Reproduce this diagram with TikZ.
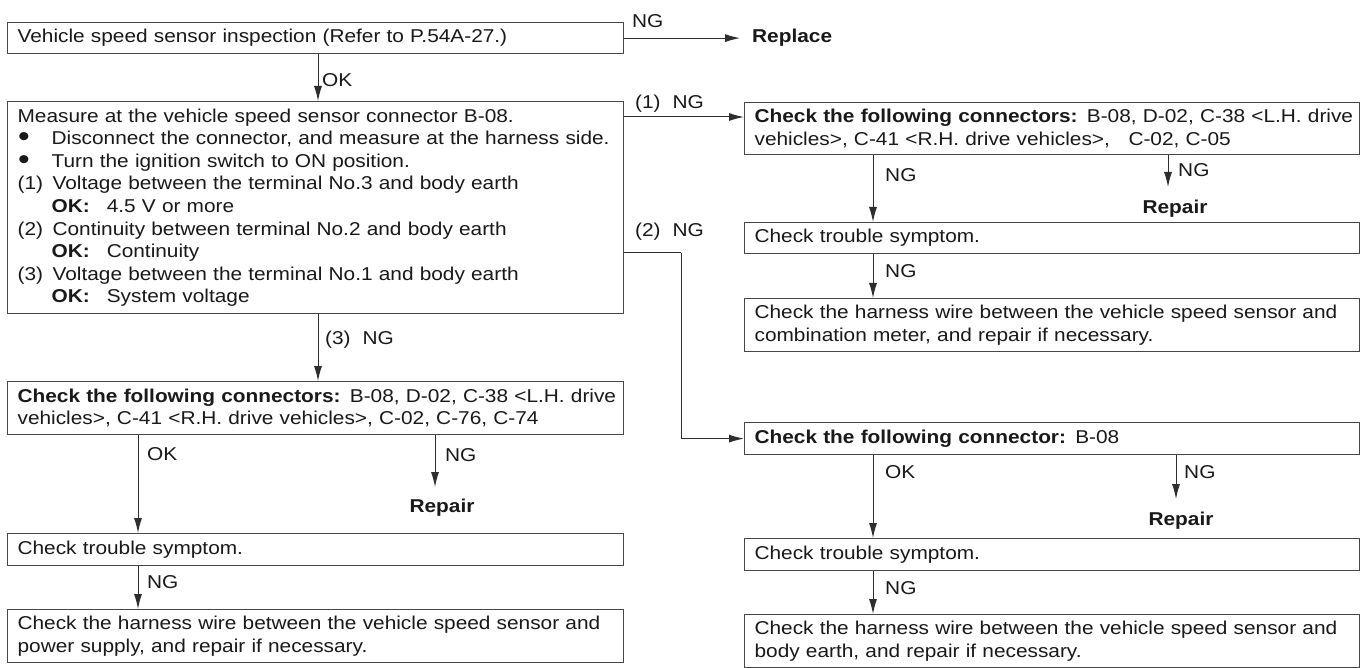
\documentclass[tikz,border=0pt]{standalone}
\usepackage{fontspec}
\setmainfont[FakeStretch=1.12]{Liberation Sans}
\usetikzlibrary{arrows.meta}
\newcommand\JL[1]{\makebox[596pt][s]{#1}}
\newcommand\JR[1]{\makebox[595pt][s]{#1}}
\newcommand\bul{\makebox[34pt][l]{\hspace{0.5pt}\raisebox{-2.2pt}[0pt][0pt]{\scalebox{1.6}{\textbullet}}}}
\newcommand\num[1]{\makebox[35pt][l]{#1}}
\newcommand\okl[1]{\hspace{34pt}\textbf{OK:}\hspace{17pt}#1}
\begin{document}
\begin{tikzpicture}[x=1pt,y=-1pt,
  every node/.style={text=black!90, font=\fontsize{18.6}{22.6}\selectfont},
  box/.style={draw=black!72, line width=1.2pt, rectangle, anchor=north west,
    inner xsep=10pt, inner ysep=0pt, text width=#1, align=left},
  lab/.style={anchor=base west, inner sep=0pt},
  rep/.style={anchor=base, inner sep=0pt, font=\fontsize{18.6}{22.6}\selectfont\bfseries},
  arr/.style={draw=black!82, line width=1pt, -{Latex[length=15pt,width=8pt]}},
  ln/.style={draw=black!82, line width=1pt}]
\useasboundingbox (0,0) rectangle (1368,668);
\fill[white] (0,0) rectangle (1368,668);

% column coordinates
\coordinate (cA) at (318,0);
\coordinate (cL) at (138,0);
\coordinate (cR) at (873,0);
\coordinate (k1) at (0,117);
\coordinate (k2) at (681,253);
\coordinate (t1) at (435,487);
\coordinate (t2) at (1168,187);
\coordinate (t3) at (1176,499);

% left column boxes
\node[box=596pt, minimum height=31pt] (b1) at (7,22)
  {Vehicle speed sensor inspection (Refer to P.54A-27.)};
\node[box=596pt, minimum height=212pt] (b2) at (7,101)
  {Measure at the vehicle speed sensor connector B-08.\\
   \bul Disconnect the connector, and measure at the harness side.\\
   \bul Turn the ignition switch to ON position.\\
   \num{(1)}Voltage between the terminal No.3 and body earth\\
   \okl{4.5 V or more}\\
   \num{(2)}Continuity between terminal No.2 and body earth\\
   \okl{Continuity}\\
   \num{(3)}Voltage between the terminal No.1 and body earth\\
   \okl{System voltage}};
\node[box=596pt, minimum height=53pt] (b3) at (7,381)
  {\JL{\textbf{Check the following connectors:} B-08, D-02, C-38 <L.H. drive}\\
   vehicles>, C-41 <R.H. drive vehicles>, C-02, C-76, C-74};
\node[box=596pt, minimum height=32pt] (b4) at (7,533) {Check trouble symptom.};
\node[box=596pt, minimum height=53pt] (b5) at (7,609)
  {\JL{Check the harness wire between the vehicle speed sensor and}\\
   power supply, and repair if necessary.};

% right column boxes
\node[box=595pt, minimum height=52pt] (bA) at (744,102)
  {\JR{\textbf{Check the following connectors:} B-08, D-02, C-38 <L.H. drive}\\
   vehicles>, C-41 <R.H. drive vehicles>,\ \ \ C-02, C-05};
\node[box=595pt, minimum height=31pt] (bB) at (744,222) {Check trouble symptom.};
\node[box=595pt, minimum height=53pt] (bC) at (744,298)
  {\JR{Check the harness wire between the vehicle speed sensor and}\\
   combination meter, and repair if necessary.};
\node[box=595pt, minimum height=32pt] (bD) at (744,422)
  {\textbf{Check the following connector:} B-08};
\node[box=595pt, minimum height=32pt] (bE) at (744,538) {Check trouble symptom.};
\node[box=595pt, minimum height=53pt] (bF) at (744,614)
  {\JR{Check the harness wire between the vehicle speed sensor and}\\
   body earth, and repair if necessary.};

% terminal texts
\node[anchor=west, inner xsep=12pt, inner ysep=0pt, font=\fontsize{18.6}{22.6}\selectfont\bfseries] (r0) at (740,38) {Replace};
\node[rep] (r1) at (442,512.7) {Repair};
\node[rep] (r2) at (1175,213.7) {Repair};
\node[rep] (r3) at (1181,525.7) {Repair};

% connectors
\draw[arr] (b1.east) -- (b1.east -| r0.west);
\draw[arr] (b1.south -| cA) -- (b2.north -| cA);
\draw[arr] (b2.east |- k1) -- (bA.west |- k1);
\draw[ln] (b2.east |- k2) -- (k2);
\draw[arr] (k2) |- (bD.west);
\draw[arr] (b2.south -| cA) -- (b3.north -| cA);
\draw[arr] (b3.south -| cL) -- (b4.north -| cL);
\draw[arr] (b3.south -| t1) -- (t1);
\draw[arr] (b4.south -| cL) -- (b5.north -| cL);
\draw[arr] (bA.south -| cR) -- (bB.north -| cR);
\draw[arr] (bA.south -| t2) -- (t2);
\draw[arr] (bB.south -| cR) -- (bC.north -| cR);
\draw[arr] (bD.south -| cR) -- (bE.north -| cR);
\draw[arr] (bD.south -| t3) -- (t3);
\draw[arr] (bE.south -| cR) -- (bF.north -| cR);

% labels
\node[lab] (l0) at (632,27.7) {NG};
\node[lab] (l1) at (322,86.7) {OK};
\node[lab] (l2) at (635,108.7) {(1)\hspace{12pt}NG};
\node[lab] (l3) at (635,236.7) {(2)\hspace{12pt}NG};
\node[lab] (l4) at (325,344.7) {(3)\hspace{12pt}NG};
\node[lab] (l5) at (147,460.7) {OK};
\node[lab] (l6) at (445,461.7) {NG};
\node[lab] (l7) at (147,588.7) {NG};
\node[lab] (l8) at (885,181.7) {NG};
\node[lab] (l9) at (1178,176.7) {NG};
\node[lab] (l10) at (885,277.7) {NG};
\node[lab] (l11) at (885,478.7) {OK};
\node[lab] (l12) at (1184,478.7) {NG};
\node[lab] (l13) at (885,594.7) {NG};
\end{tikzpicture}
\end{document}
